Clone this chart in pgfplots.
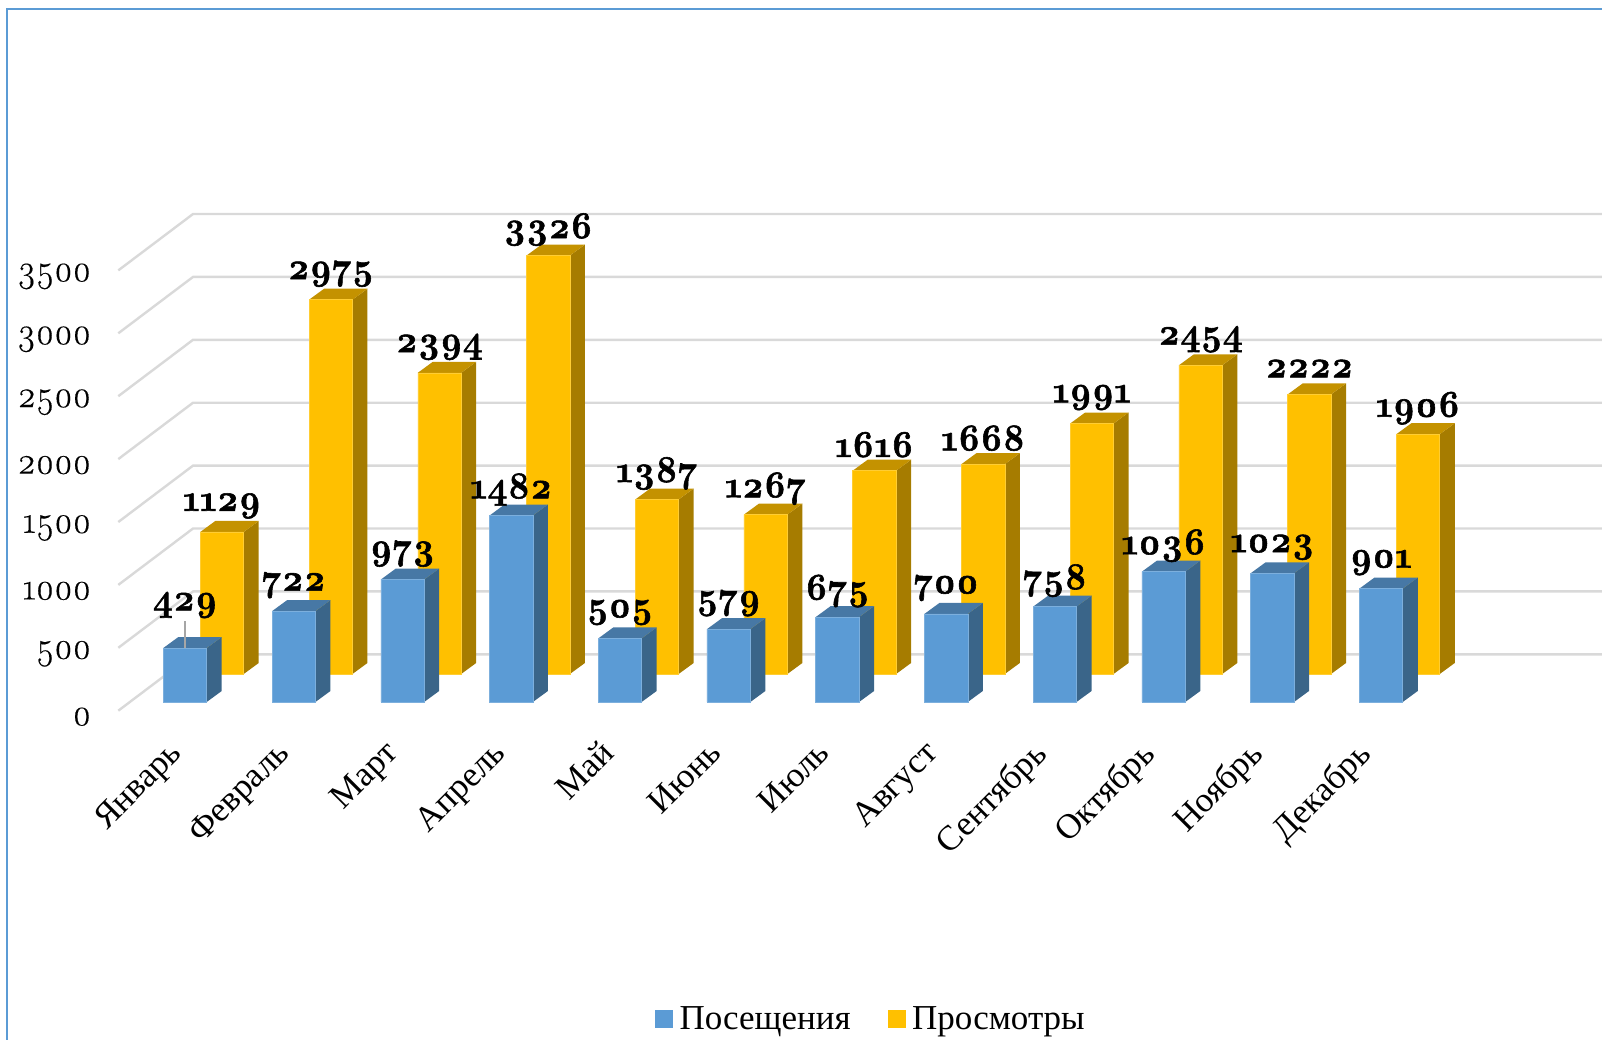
\documentclass[border=0pt]{standalone}
\usepackage{fontspec}
\usepackage{pgfplots}
\usepackage{pgfplotstable}
\pgfplotsset{compat=1.18}
\setmainfont{Liberation Serif}
\newfontfamily\numfont{Latin Modern Roman}[Numbers=OldStyle,FakeStretch=0.93,FakeBold=0.3,BoldFeatures={FakeBold=1.5}]

\definecolor{blueF}{HTML}{5B9BD5}
\definecolor{blueS}{HTML}{3A6589}
\definecolor{blueT}{HTML}{4778A5}
\definecolor{yelF}{HTML}{FFC000}
\definecolor{yelS}{HTML}{A67C00}
\definecolor{yelT}{HTML}{C49200}
\definecolor{gridc}{HTML}{D9D9D9}
\definecolor{framec}{HTML}{5B9BD5}

% month index, value
\pgfplotstableread{
x visits
0 429
1 722
2 973
3 1482
4 505
5 579
6 675
7 700
8 758
9 1036
10 1023
11 901
}\visits
\pgfplotstableread{
x views
0 1129
1 2975
2 2394
3 3326
4 1387
5 1267
6 1616
7 1668
8 1991
9 2454
10 2222
11 1906
}\views

% side and top faces of one series: table, xshift, yshift, side, top
\newcommand\faces[5]{%
  \pgfplotsinvokeforeach{0,...,11}{%
    \pgfplotstablegetelem{##1}{[index]1}\of{#1}%
    \pgfmathsetmacro\vv{\pgfplotsretval}%
    \pgfmathsetmacro\vt{\vv+87.4}%
    \pgfmathsetmacro\xl{##1-0.1996}%
    \pgfmathsetmacro\xr{##1+0.1996}%
    \pgfmathsetmacro\xb{##1+0.1996+0.138}%
    \pgfmathsetmacro\xc{##1-0.1996+0.138}%
    \edef\tmp{\noexpand\addplot[fill=#4,draw=none,forget plot,xshift=#2,yshift=#3]
      coordinates {(\xr,0)(\xb,87.4)(\xb,\vt)(\xr,\vv)};
      \noexpand\addplot[fill=#5,draw=none,forget plot,xshift=#2,yshift=#3]
      coordinates {(\xl,\vv)(\xr,\vv)(\xb,\vt)(\xc,\vt)};}%
    \tmp
  }%
}

\begin{document}
\begin{tikzpicture}[x=1pt,y=1pt]
\useasboundingbox (0,0) rectangle (1602,1039);
\begin{axis}[
  at={(118.3pt,328.3pt)}, anchor=south west,
  scale only axis,
  x=108.73pt, y=0.1258pt,
  xmin=-0.6134, xmax=13.032,
  ymin=0, ymax=4000,
  clip=false,
  axis line style={draw=none},
  tick style={draw=none},
  xtick={0,0.993,1.987,2.98,3.974,4.967,5.96,6.954,7.947,8.941,9.934,10.927},
  xticklabels={Январь,Февраль,Март,Апрель,Май,Июнь,Июль,Август,Сентябрь,Октябрь,Ноябрь,Декабрь},
  xticklabel style={rotate=45,anchor=north east,font=\fontsize{35}{37}\selectfont,inner sep=0pt,yshift=-6.5pt,xshift=-32.5pt},
  ytick={0,500,...,3500},
  yticklabel style={font=\numfont\fontsize{38}{40}\selectfont,anchor=east,inner sep=0pt,xshift=-27pt,yshift=-6pt},
  /pgf/number format/assume math mode=true,
  /pgf/number format/1000 sep={},
  legend columns=2,
  legend style={draw=none,fill=none,at={(axis cs:6.309,-2451)},anchor=center,
    font=\fontsize{35}{37}\selectfont,inner sep=0pt,
    /tikz/every even column/.append style={column sep=35pt}},
  legend image code/.code={\fill[#1] (0pt,-8.5pt) rectangle (17pt,8.5pt);},
  value/.style={nodes near coords,point meta=y,
    every node near coord/.append style={font=\numfont\fontsize{38}{40}\bfseries\selectfont,
      anchor=center,inner sep=0pt,yshift=26pt,text=black}},
]
\addlegendimage{blueF}
\addlegendimage{yelF}

% back wall and side wall lines
\addplot[gridc,line width=2.4pt,forget plot] coordinates {(-0.6134,0)(0.0736,448)(13.032,448)};
\addplot[gridc,line width=2.4pt,forget plot] coordinates {(-0.6134,500)(0.0736,948)(13.032,948)};
\addplot[gridc,line width=2.4pt,forget plot] coordinates {(-0.6134,1000)(0.0736,1448)(13.032,1448)};
\addplot[gridc,line width=2.4pt,forget plot] coordinates {(-0.6134,1500)(0.0736,1948)(13.032,1948)};
\addplot[gridc,line width=2.4pt,forget plot] coordinates {(-0.6134,2000)(0.0736,2448)(13.032,2448)};
\addplot[gridc,line width=2.4pt,forget plot] coordinates {(-0.6134,2500)(0.0736,2948)(13.032,2948)};
\addplot[gridc,line width=2.4pt,forget plot] coordinates {(-0.6134,3000)(0.0736,3448)(13.032,3448)};
\addplot[gridc,line width=2.4pt,forget plot] coordinates {(-0.6134,3500)(0.0736,3948)(13.032,3948)};

% rear row
\faces{\views}{37pt}{36.7pt}{yelS}{yelT}
\addplot[ybar,bar width=43.4pt,bar shift=0pt,fill=yelF,draw=yelF!80!white,line width=0.5pt,forget plot,
  xshift=37pt,yshift=36.7pt,value] table[x=x,y=views] {\views};

% front row
\faces{\visits}{0pt}{8.7pt}{blueS}{blueT}
\addplot[ybar,bar width=43.4pt,bar shift=0pt,fill=blueF,draw=blueF!80!white,line width=0.5pt,forget plot,
  yshift=8.7pt,value,
  coordinate style/.condition={\coordindex==0}{yshift=17pt}] table[x=x,y=visits] {\visits};
% leader of the first label
\addplot[color=black!35,line width=1.2pt,forget plot,yshift=8.7pt] coordinates {(0,429)(0,640)};

\legend{\hspace{5pt}Посещения,\hspace{5pt}Просмотры}
\end{axis}
\draw[framec,line width=2pt] (7,-5) -- (7,1030) -- (1610,1030);
\end{tikzpicture}
\end{document}
